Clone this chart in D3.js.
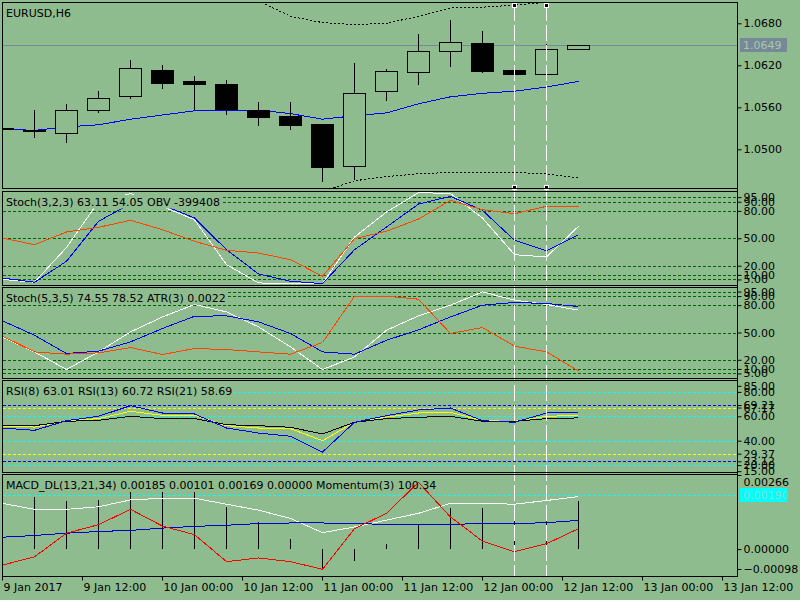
<!DOCTYPE html>
<html>
<head>
<meta charset="utf-8">
<script src="https://cdn.jsdelivr.net/npm/d3@7"></script>
<style>
body{margin:0;background:#8fbc8f;}
svg{display:block;font-family:"DejaVu Sans",sans-serif;font-size:11px;}
</style>
</head>
<body>
<svg id="chart" width="800" height="600"></svg>
<script>
// price bars, H6
var open =[1.0530,1.0528,1.0524,1.0556,1.0576,1.0614,1.0598,1.0593,1.0556,1.0548,1.0536,1.0476,1.0583,1.0611,1.0641,1.0652,1.0614,1.0607,1.0644];
var high =[1.0530,1.0556,1.0565,1.0584,1.0628,1.0620,1.0605,1.0599,1.0567,1.0568,1.0536,1.0624,1.0615,1.0665,1.0685,1.0669,1.0620,1.0650,1.0649];
var low  =[1.0529,1.0517,1.0511,1.0554,1.0574,1.0587,1.0557,1.0550,1.0535,1.0529,1.0454,1.0458,1.0571,1.0594,1.0619,1.0611,1.0604,1.0607,1.0644];
var close=[1.0529,1.0527,1.0556,1.0574,1.0616,1.0595,1.0594,1.0557,1.0546,1.0535,1.0474,1.0581,1.0612,1.0640,1.0653,1.0612,1.0607,1.0644,1.0649];
var maLine  =[1.0529,1.0527,1.0532,1.0535,1.0543,1.0549,1.0555,1.0556,1.0556,1.0551,1.0543,1.0548,1.0552,1.0565,1.0575,1.0580,1.0583,1.0589,1.0597];
var envUpper=[1.0722,1.0720,1.0719,1.0721,1.0720,1.0716,1.0713,1.0718,1.0712,1.0690,1.0681,1.0678,1.0680,1.0690,1.0702,1.0703,1.0706,1.0710,1.0718];
var envLower=[1.0420,1.0421,1.0423,1.0425,1.0428,1.0430,1.0432,1.0433,1.0434,1.0436,1.0440,1.0455,1.0461,1.0465,1.0467,1.0467,1.0467,1.0465,1.0459];
var lastPrice=1.0649;

// Stoch(3,2,3) + OBV
var stochFastMain  =[5,1.9,40,90,99,84.8,70.3,21.2,1.2,0,0.5,51.4,78.7,100,99,72.2,32.1,29.6,63.11];
var stochFastSignal=[6.6,1.9,24.9,68.6,87.8,86.4,72.2,37.5,11,3,0.4,37.5,62.3,87.5,95.9,80.6,47.8,36.4,54.05];
var obvLine        =[50.3,43,56.9,62,69.7,59.4,46.7,36.9,33.9,26.6,8.5,49.6,57.7,71.1,91.5,81.3,76.9,85,85];

// Stoch(5,3,5) + ATR
var stochSlowMain  =[45,28.7,9.3,28.7,50.7,67.1,80.8,72.6,56.2,34.2,9.3,23.2,52.5,68.3,80,94.6,85.5,80.8,74.55];
var stochSlowSignal=[62.8,47,26.9,29.5,39.7,54.4,67.9,68.3,61.7,48.9,28.7,26.2,41.5,52.9,67.1,80,83,81.9,78.52];
var atrLine        =[46,28.7,26.2,27.6,33.5,25.8,32.4,31.3,28.7,26.2,39,89.9,89.9,86.6,48.9,55.5,35,28.7,7.8];

// RSI 8 / 13 / 21
var rsi8 =[50.4,48.5,56.4,60,68.7,62.7,61.9,50.4,46.3,43.6,30.7,55.1,60.5,65.2,66.8,56.4,55.1,62.7,63.01];
var rsi13=[51.8,51.2,56.4,58.1,64.1,60.8,60.8,52.3,50.4,49.9,40,55.1,59.4,62.7,63.3,56.4,55.9,60,60.72];
var rsi21=[52.3,52.3,55.9,56.7,60,58.1,58.1,53.1,52.3,51,45.5,55.1,58.1,59.2,60,55.9,55.9,58.1,58.69];

// MACD_DL + Momentum
var macdHist    =[0.00170,0.00185,0.00170,0.00173,0.00201,0.00201,0.00201,0.00149,0.00096,0.00036,-0.00065,-0.00041,0.00019,0.00086,0.00146,0.00146,0.00129,0.00152,0.00169];
var macdMain    =[0.00161,0.00140,0.00140,0.00149,0.00173,0.00179,0.00179,0.00158,0.00137,0.00108,0.00058,0.00078,0.00102,0.00126,0.00161,0.00161,0.00158,0.00171,0.00185];
var macdSignal  =[0.00042,0.00048,0.00056,0.00062,0.00066,0.00074,0.00080,0.00084,0.00090,0.00092,0.00092,0.00090,0.00087,0.00087,0.00087,0.00090,0.00090,0.00093,0.00101];
var momentumLine=[-0.00056,-0.00027,0.00056,0.00086,0.00140,0.00081,0.00051,-0.00044,-0.00031,-0.00044,-0.00071,0.00072,0.00126,0.00235,0.00113,0.00028,-0.00009,0.00019,0.00072];

// levels and tick labels
var priceTicks=[1.0680,1.0620,1.0560,1.0500];
var stochLevels=[95,90,80,50,20,10,5];
var rsiCyan=[80,60,40,20], rsiBlue=[69.21,23.12], rsiYellow=[67.17,29.37];
var rsiTicks=[85,80,69.21,67.17,60,40,29.37,23.12,20,15];
var macdTicks=[0.00266,0,-0.00098], macdLevel=0.0019;
var markBars=[16,17];
var titles=["EURUSD,H6",
	"Stoch(3,2,3) 63.11 54.05 OBV -399408",
	"Stoch(5,3,5) 74.55 78.52 ATR(3) 0.0022",
	"RSI(8) 63.01 RSI(13) 60.72 RSI(21) 58.69",
	"MACD_DL(13,21,34) 0.00185 0.00101 0.00169 0.00000 Momentum(3) 100.34"];

var bg="#8fbc8f";
var left=2.5, right=737.5;
var panels=[
	{top:2.5,bottom:188.5},
	{top:191.5,bottom:285.5},
	{top:287.5,bottom:378.5},
	{top:380.5,bottom:472.5},
	{top:474.5,bottom:576.5}
];

var svg=d3.select("#chart");
svg.append("rect").attr("width",800).attr("height",600).attr("fill",bg);

var xBar=d3.scaleLinear().domain([0,1]).range([2.5,34.5]);
var xTime=d3.scaleUtc()
	.domain([new Date(Date.UTC(2017,0,9,0)),new Date(Date.UTC(2017,0,13,12))])
	.range([2,722]);

var yPrice=d3.scaleLinear().domain([1.0500,1.0680]).range([149.3,23.3]);
var yFast=d3.scaleLinear().domain([0,100]).range([284,192.6]);
var ySlow=d3.scaleLinear().domain([0,100]).range([378,287]);
var yRsi=d3.scaleLinear().domain([20,80]).range([465.1,391.9]);
var yMacd=d3.scaleLinear().domain([-0.00098,0.00266]).range([577,473.5]);

function px(v){return Math.round(v)+0.5;}

function makePanel(k){
	var p=panels[k];
	var g=svg.append("g");
	g.append("clipPath").attr("id","clip"+k).append("rect")
		.attr("x",left+0.5).attr("y",p.top+0.5)
		.attr("width",right-left-1).attr("height",p.bottom-p.top-1);
	var body=g.append("g").attr("clip-path","url(#clip"+k+")");
	return {g:g,body:body};
}

function levels(body,vals,y,color){
	body.selectAll(null).data(vals).enter().append("line")
		.attr("x1",left).attr("x2",right)
		.attr("y1",function(d){return px(y(d));})
		.attr("y2",function(d){return px(y(d));})
		.attr("stroke",color).attr("stroke-dasharray","3,2")
		.attr("shape-rendering","crispEdges");
}

function series(body,arr,y,color,dash){
	body.append("path").datum(arr)
		.attr("fill","none").attr("stroke",color).attr("stroke-width",1)
		.attr("stroke-dasharray",dash||null)
		.attr("shape-rendering","crispEdges")
		.attr("d",d3.line().x(function(d,i){return xBar(i);}).y(function(d){return y(d);}));
}

function title(g,k,box){
	var base=panels[k].top+14.5;
	var t=g.append("text").attr("x",6).attr("y",base).attr("fill","#000").text(titles[k]);
	if(box){
		var w=t.node().getComputedTextLength();
		g.insert("rect","text").attr("x",3).attr("y",base-11)
			.attr("width",w+4).attr("height",13.5).attr("fill",bg);
	}
}

function rightAxis(y,vals,fmt){
	var a=svg.append("g").attr("transform","translate("+right+",0)")
		.call(d3.axisRight(y).tickValues(vals).tickSize(4).tickPadding(2).tickFormat(d3.format(fmt)));
	a.select(".domain").remove();
	a.attr("font-family",null).attr("font-size",null).attr("color","#000");
	return a;
}

// ---- panel 1: candles
var P1=makePanel(0);
P1.body.append("line").attr("x1",left).attr("x2",right)
	.attr("y1",px(yPrice(lastPrice))).attr("y2",px(yPrice(lastPrice)))
	.attr("stroke","#778899").attr("shape-rendering","crispEdges");
series(P1.body,envUpper,yPrice,"#000","2,2");
series(P1.body,envLower,yPrice,"#000","2,2");
series(P1.body,maLine,yPrice,"#0000ff");

var candles=d3.range(open.length).map(function(i){
	return {i:i,o:open[i],h:high[i],l:low[i],c:close[i]};
});
P1.body.selectAll("line.wick").data(candles).enter().append("line")
	.attr("class","wick")
	.attr("x1",function(d){return xBar(d.i);}).attr("x2",function(d){return xBar(d.i);})
	.attr("y1",function(d){return Math.round(yPrice(d.h));})
	.attr("y2",function(d){return Math.round(yPrice(d.l))+1;})
	.attr("stroke","#000").attr("shape-rendering","crispEdges");
P1.body.selectAll("rect.body").data(candles).enter().append("rect")
	.attr("class","body")
	.attr("x",function(d){return xBar(d.i)-11;})
	.attr("y",function(d){return px(yPrice(Math.max(d.o,d.c)));})
	.attr("width",22)
	.attr("height",function(d){
		return Math.max(1,Math.round(yPrice(Math.min(d.o,d.c)))-Math.round(yPrice(Math.max(d.o,d.c))));
	})
	.attr("fill",function(d){return d.c>d.o?bg:"#000";})
	.attr("stroke","#000").attr("shape-rendering","crispEdges");
title(P1.g,0,false);

// ---- panel 2: Stoch(3,2,3) + OBV
var P2=makePanel(1);
levels(P2.body,stochLevels,yFast,"#006400");
series(P2.body,stochFastMain,yFast,"#ffffff");
series(P2.body,stochFastSignal,yFast,"#0000ff");
series(P2.body,obvLine,yFast,"#ff4500");
title(P2.g,1,true);

// ---- panel 3: Stoch(5,3,5) + ATR
var P3=makePanel(2);
levels(P3.body,stochLevels,ySlow,"#006400");
series(P3.body,stochSlowMain,ySlow,"#ffffff");
series(P3.body,stochSlowSignal,ySlow,"#0000ff");
series(P3.body,atrLine,ySlow,"#ff4500");
title(P3.g,2,true);

// ---- panel 4: RSI
var P4=makePanel(3);
levels(P4.body,rsiCyan,yRsi,"#00ffff");
levels(P4.body,rsiBlue,yRsi,"#0000ff");
levels(P4.body,rsiYellow,yRsi,"#ffff00");
series(P4.body,rsi13,yRsi,"#ffff00");
series(P4.body,rsi21,yRsi,"#000000");
series(P4.body,rsi8,yRsi,"#0000ff");
title(P4.g,3,true);

// ---- panel 5: MACD + momentum
var P5=makePanel(4);
levels(P5.body,[macdLevel],yMacd,"#00ffff");
P5.body.selectAll("line.hist").data(macdHist).enter().append("line")
	.attr("class","hist")
	.attr("x1",function(d,i){return xBar(i);}).attr("x2",function(d,i){return xBar(i);})
	.attr("y1",Math.round(yMacd(0)))
	.attr("y2",function(d){return Math.round(yMacd(d));})
	.attr("stroke","#000").attr("shape-rendering","crispEdges");
series(P5.body,macdMain,yMacd,"#ffffff");
series(P5.body,macdSignal,yMacd,"#0000cd");
series(P5.body,momentumLine,yMacd,"#ff0000");
title(P5.g,4,false);

// ---- marker verticals
markBars.forEach(function(b){
	svg.append("line").attr("x1",xBar(b)).attr("x2",xBar(b))
		.attr("y1",5).attr("y2",576)
		.attr("stroke","#fff").attr("stroke-dasharray","16,4")
		.attr("shape-rendering","crispEdges");
});
svg.selectAll("rect.mark").data([].concat(
	markBars.map(function(b){return {b:b,y:5};}),
	markBars.map(function(b){return {b:b,y:187};})
)).enter().append("rect").attr("class","mark")
	.attr("x",function(d){return xBar(d.b)-2;}).attr("y",function(d){return d.y-2;})
	.attr("width",4).attr("height",4)
	.attr("fill","#000").attr("stroke","#fff").attr("stroke-width",1)
	.attr("shape-rendering","crispEdges");

// ---- panel borders
svg.selectAll("rect.frame").data(panels).enter().append("rect")
	.attr("class","frame")
	.attr("x",left).attr("y",function(d){return d.top;})
	.attr("width",right-left).attr("height",function(d){return d.bottom-d.top;})
	.attr("fill","none").attr("stroke","#000").attr("shape-rendering","crispEdges");
svg.append("line").attr("x1",right).attr("x2",right).attr("y1",2.5).attr("y2",576.5)
	.attr("stroke","#000").attr("shape-rendering","crispEdges");

// ---- right axes
rightAxis(yPrice,priceTicks,".4f");
rightAxis(yFast,stochLevels,".2f");
rightAxis(ySlow,stochLevels,".2f");
rightAxis(yRsi,rsiTicks,".2f");
var aM=rightAxis(yMacd,macdTicks,".5f");
aM.selectAll(".tick").each(function(d){
	var t=d3.select(this);
	if(d===macdTicks[0]){
		t.attr("transform","translate(0,"+px(yMacd(d)+1)+")");
		t.select("text").attr("y",7);
	} else if(d===macdTicks[2]){
		t.attr("transform","translate(0,"+px(yMacd(d)-8)+")");
	}
});

// current price box
var pY=px(yPrice(lastPrice));
svg.append("rect").attr("x",740).attr("y",pY-7.5).attr("width",47).attr("height",14).attr("fill","#778899");
svg.append("text").attr("x",743).attr("y",pY).attr("dy","0.35em").attr("fill","#a6c8a6")
	.text(d3.format(".4f")(lastPrice));
// macd level box
var mY=px(yMacd(macdLevel));
svg.append("rect").attr("x",740).attr("y",mY-7.5).attr("width",47).attr("height",14).attr("fill","#00ffff");
svg.append("text").attr("x",743).attr("y",mY).attr("dy","0.35em").attr("fill","#7fe0d0")
	.text(d3.format(".5f")(macdLevel));

// ---- time axis
var fmtFirst=d3.utcFormat("%-d %b %Y"), fmtOther=d3.utcFormat("%-d %b %H:%M");
var xa=svg.append("g").attr("transform","translate(0,576.5)")
	.call(d3.axisBottom(xTime)
		.tickValues(d3.utcHour.every(12).range(xTime.domain()[0],new Date(xTime.domain()[1].getTime()+1)))
		.tickSize(4).tickPadding(3)
		.tickFormat(function(d,i){return i==0?fmtFirst(d):fmtOther(d);}));
xa.select(".domain").remove();
xa.attr("font-family",null).attr("font-size",null).attr("color","#000");
xa.selectAll(".tick text").attr("text-anchor","start").attr("x",1);
</script>
</body>
</html>
